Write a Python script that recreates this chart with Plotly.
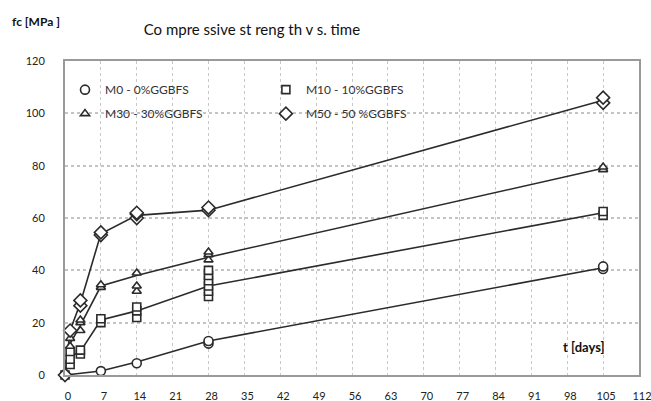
import plotly.graph_objects as go

# Curing age (days) and mean compressive strength (MPa) per mix
days_M0 = [0, 7, 14, 28, 105]
mean_M0 = [0, 1.5, 5, 13, 41]
days_M10 = [0, 1, 3, 7, 14, 28, 105]
mean_M10 = [0, 7, 9, 21, 24.5, 34, 62]
days_M30 = [0, 1, 3, 7, 14, 28, 105]
mean_M30 = [0, 12, 19, 34, 38, 45, 79]
days_M50 = [0, 1, 3, 7, 14, 28, 105]
mean_M50 = [0, 17, 27.5, 54, 61, 63, 105]

# Individual specimen results
spec_days_M0 = [0, 7, 14, 28, 28, 105, 105]
spec_fc_M0 = [0, 1.5, 4.5, 12, 13, 40.5, 41.5]
spec_days_M10 = [0, 1, 1, 1, 3, 3, 7, 7, 14, 14, 14, 28, 28, 28, 28, 28, 28, 105, 105]
spec_fc_M10 = [0, 4, 6, 9, 8, 9.5, 20, 21.5, 22, 24.5, 26, 30, 32, 34, 36, 38, 40, 61, 62.5]
spec_days_M30 = [0, 1, 1, 3, 3, 3, 7, 7, 14, 14, 14, 28, 28, 28, 105, 105]
spec_fc_M30 = [0, 11, 14, 17, 20, 21, 33.5, 34.5, 32, 34, 39, 44, 46, 47, 78.5, 79.5]
spec_days_M50 = [0, 1, 3, 3, 7, 7, 14, 14, 14, 28, 28, 105, 105]
spec_fc_M50 = [0, 17, 26.5, 28.5, 53.5, 54.5, 60, 61.5, 62, 63, 64, 104, 106]

mix_names = ["M0 - 0%GGBFS", "M10 - 10%GGBFS", "M30 - 30%GGBFS", "M50 - 50 %GGBFS"]
x_ticks = list(range(0, 113, 7))
y_ticks = list(range(0, 121, 20))

FONT = "Lato, 'Open Sans', sans-serif"
LINE_COL = "#2b2b2b"

series = [
    (mix_names[0], days_M0, mean_M0, spec_days_M0, spec_fc_M0, "circle", 9, "legend"),
    (mix_names[1], days_M10, mean_M10, spec_days_M10, spec_fc_M10, "square", 8, "legend2"),
    (mix_names[2], days_M30, mean_M30, spec_days_M30, spec_fc_M30, "triangle-up", 8, "legend"),
    (mix_names[3], days_M50, mean_M50, spec_days_M50, spec_fc_M50, "diamond", 10, "legend2"),
]

fig = go.Figure()
for name, d, m, sd, sf, sym, size, leg in series:
    fig.add_trace(go.Scatter(
        x=d, y=m, mode="lines", showlegend=False, hoverinfo="skip",
        line=dict(color=LINE_COL, width=1.6), cliponaxis=False,
    ))
for name, d, m, sd, sf, sym, size, leg in series:
    fig.add_trace(go.Scatter(
        x=sd, y=sf, mode="markers", name=name, legend=leg, legendgroup=name,
        marker=dict(symbol=sym, size=size, color="white",
                    line=dict(color=LINE_COL, width=1.6)),
        cliponaxis=False,
    ))

legend_common = dict(
    bgcolor="rgba(0,0,0,0)", borderwidth=0, tracegroupgap=5,
    font=dict(family=FONT, size=12, color="#333"),
    itemwidth=30, xanchor="left", yanchor="top", orientation="v",
)

fig.update_layout(
    width=651, height=401,
    margin=dict(l=65, r=12, t=61, b=26),
    paper_bgcolor="white", plot_bgcolor="white",
    title=dict(text="Co mpre ssive st reng th v s. time",
               x=0.387, xanchor="center", y=0.925, yanchor="middle",
               font=dict(family=FONT, size=15, color="#111")),
    legend=dict(x=0.0, y=0.955, **legend_common),
    legend2=dict(x=0.35, y=0.955, **legend_common),
    xaxis=dict(
        range=[0, 112], tickvals=x_ticks, ticktext=[str(v) for v in x_ticks],
        showgrid=True, gridcolor="#c8c8c8", griddash="dot", gridwidth=1,
        showline=True, linecolor="#9a9a9a", linewidth=2, mirror=True,
        ticks="", zeroline=False, ticklabelstandoff=10, ticklabelshift=3,
        ticklabeloverflow="allow", automargin=False,
        tickfont=dict(family=FONT, size=11, color="#222"),
    ),
    yaxis=dict(
        range=[0, 120], tickvals=y_ticks, ticktext=[str(v) for v in y_ticks],
        showgrid=True, gridcolor="#c4c4c4", griddash="dot", gridwidth=2,
        showline=True, linecolor="#9a9a9a", linewidth=2, mirror=True,
        ticks="", zeroline=False, ticklabelstandoff=16, automargin=False,
        tickfont=dict(family=FONT, size=11, color="#222"),
    ),
    annotations=[
        dict(text="<b>fc [MPa ]</b>", xref="paper", yref="paper", x=-0.095, y=1.125,
             xanchor="left", yanchor="middle", showarrow=False,
             font=dict(family=FONT, size=12, color="#111")),
        dict(text="<b>t [days]</b>", xref="paper", yref="paper", x=0.945, y=0.09,
             xanchor="right", yanchor="middle", showarrow=False,
             font=dict(family=FONT, size=13, color="#111")),
    ],
)

fig.write_html("out.html")
